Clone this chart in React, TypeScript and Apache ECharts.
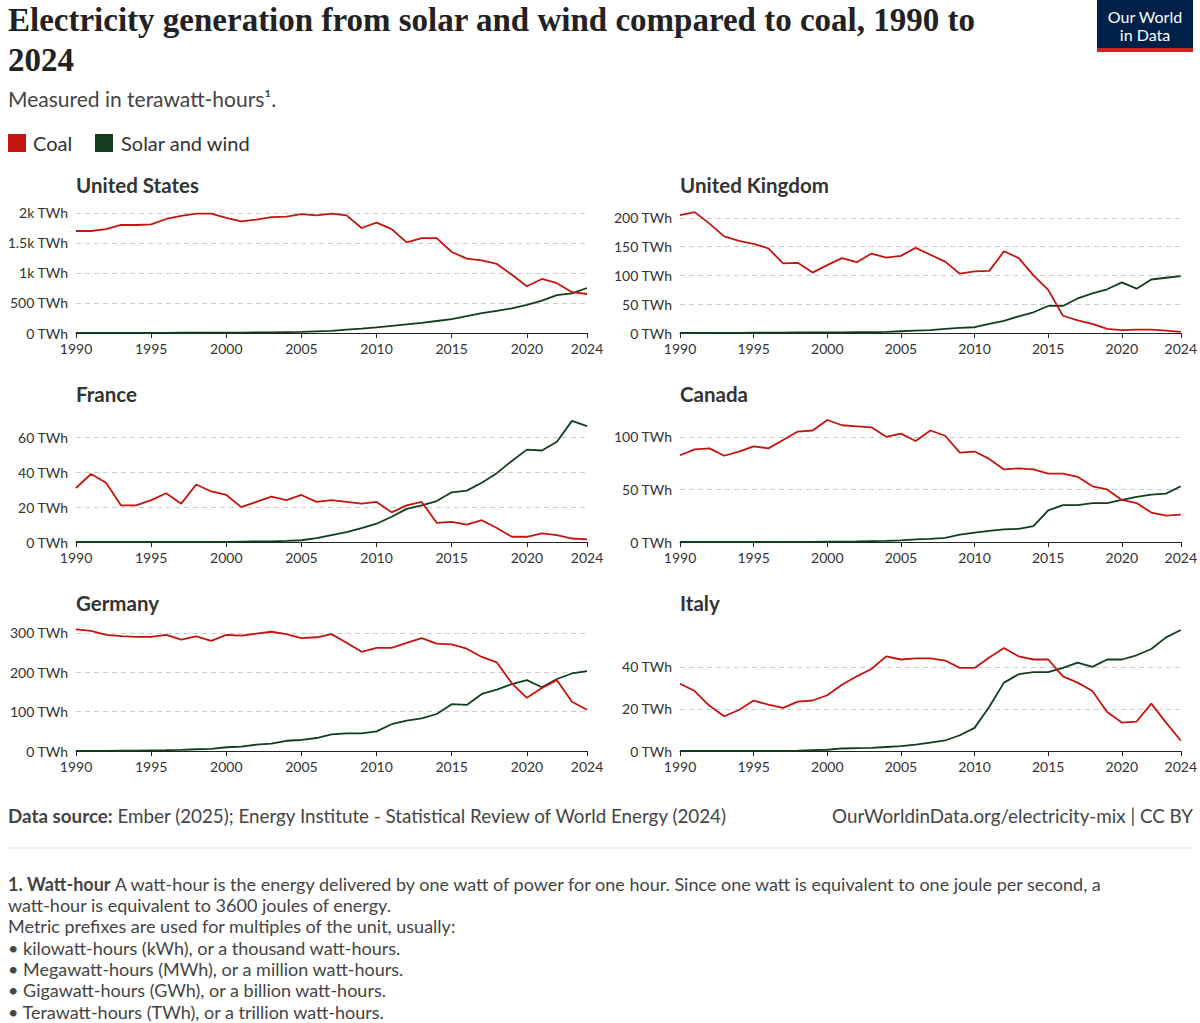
import React, { useEffect, useRef } from "react";
import * as echarts from "echarts";

const years = Array.from({ length: 35 }, (_, i) => 1990 + i);
const yearLabels = [1990, 1995, 2000, 2005, 2010, 2015, 2020, 2024];

const usCoal = [1700, 1700, 1730, 1800, 1800, 1810, 1900, 1950, 1990, 1990, 1920, 1860, 1890, 1930, 1940, 1980, 1960, 1990, 1960, 1750, 1840, 1730, 1510, 1580, 1580, 1350, 1240, 1210, 1150, 970, 780, 900, 830, 680, 650];
const usSolarWind = [3, 3, 3, 3, 3, 3, 3, 4, 4, 5, 6, 7, 11, 12, 15, 18, 27, 35, 56, 74, 95, 120, 145, 170, 200, 230, 280, 330, 370, 410, 470, 540, 630, 660, 750];
const ukCoal = [205, 210, 190, 168, 160, 155, 147, 121, 122, 105, 118, 130, 123, 138, 131, 134, 148, 136, 124, 103, 107, 108, 142, 130, 100, 75, 30, 22, 16, 7, 5, 6, 6, 4, 2];
const ukSolarWind = [0, 0, 0, 0.2, 0.3, 0.4, 0.5, 0.7, 0.9, 0.9, 1, 1, 1.3, 1.3, 2, 3, 4, 5, 7, 9, 10, 16, 21, 29, 36, 47, 47, 60, 69, 76, 88, 77, 93, 96, 99];
const frCoal = [31, 39, 34, 21, 21, 24, 28, 22, 33, 29, 27, 20, 23, 26, 24, 27, 23, 24, 23, 22, 23, 17, 21, 23, 11, 11.5, 10, 12.5, 8, 3, 3, 5, 4, 2, 1.5];
const frSolarWind = [0, 0, 0, 0, 0, 0, 0, 0, 0, 0, 0.1, 0.2, 0.3, 0.4, 0.6, 1, 2.2, 4, 5.7, 8, 10.5, 14.5, 19, 21, 23.5, 28.5, 29.5, 34, 39.5, 46.5, 53, 52.5, 57.5, 69.5, 66.5];
const caCoal = [82.5, 88, 89, 82, 86, 91, 89, 97, 105, 106, 116, 111, 110, 109, 100, 103, 96, 106, 101, 85, 86, 79, 69, 70, 69, 65, 65, 62, 53, 50, 40, 37, 28, 25, 26];
const caSolarWind = [0, 0, 0, 0, 0, 0, 0, 0, 0.1, 0.2, 0.3, 0.4, 0.5, 0.8, 1, 1.5, 2.5, 3, 4, 7, 9, 10.5, 12, 12.5, 15, 30, 35, 35, 37, 37, 40, 43, 45, 46, 53];
const deCoal = [309, 305, 295, 292, 290, 290, 295, 283, 291, 280, 295, 293, 298, 303, 297, 287, 289, 297, 275, 252, 262, 262, 275, 287, 273, 271, 260, 239, 225, 172, 135, 160, 180, 125, 105];
const deSolarWind = [0.1, 0.2, 0.3, 0.6, 1, 1.5, 2, 3, 4.5, 5.5, 9.5, 11, 16, 19, 26, 28, 33, 42, 45, 45, 50, 68, 77, 83, 94, 119, 117, 145, 156, 170, 180, 162, 183, 197, 203];
const itCoal = [32, 28.5, 21.5, 16.5, 19.5, 24, 22, 20.5, 23.5, 24, 26.5, 31.5, 35.5, 39, 45, 43.5, 44, 44, 43, 39.5, 39.5, 44.5, 49, 45, 43.5, 43.5, 35.5, 32.5, 28.5, 18.5, 13.5, 14, 22.5, 13.5, 5];
const itSolarWind = [0, 0, 0, 0, 0, 0, 0.1, 0.1, 0.2, 0.4, 0.6, 1.2, 1.4, 1.5, 1.9, 2.3, 3, 4, 5, 7.5, 11, 21, 32.5, 36.5, 37.5, 37.5, 39.5, 42, 40, 43.5, 43.5, 45.5, 48.5, 54, 57.5];

const COAL = "#c4140f";
const SW = "#123d1f";
const FONT = "Lato, 'Noto Sans', sans-serif";
const SERIF = "'Liberation Serif', 'DejaVu Serif', serif";

const panels = [
  { name: "United States", coal: usCoal, sw: usSolarWind, max: 2033, interval: 500, col: 0, row: 0, fmt: (v: number) => (v >= 1000 ? `${v / 1000}k TWh` : `${v} TWh`) },
  { name: "United Kingdom", coal: ukCoal, sw: ukSolarWind, max: 212, interval: 50, col: 1, row: 0 },
  { name: "France", coal: frCoal, sw: frSolarWind, max: 70, interval: 20, col: 0, row: 1 },
  { name: "Canada", coal: caCoal, sw: caSolarWind, max: 116, interval: 50, col: 1, row: 1 },
  { name: "Germany", coal: deCoal, sw: deSolarWind, max: 310, interval: 100, col: 0, row: 2 },
  { name: "Italy", coal: itCoal, sw: itSolarWind, max: 58, interval: 20, col: 1, row: 2 },
];

const rowTop = [211, 420, 629];
const rowBottom = [333, 542, 751];
const colLeft = [76, 680];
const colRight = [587, 1190];

const footnote = [
  "A watt-hour is the energy delivered by one watt of power for one hour. Since one watt is equivalent to one joule per second, a",
  "watt-hour is equivalent to 3600 joules of energy.",
  "Metric prefixes are used for multiples of the unit, usually:",
  "• kilowatt-hours (kWh), or a thousand watt-hours.",
  "• Megawatt-hours (MWh), or a million watt-hours.",
  "• Gigawatt-hours (GWh), or a billion watt-hours.",
  "• Terawatt-hours (TWh), or a trillion watt-hours.",
];

const App: React.FC = () => {
  const ref = useRef<HTMLDivElement>(null);

  useEffect(() => {
    if (!ref.current) return;
    const chart = echarts.init(ref.current, null, { renderer: "svg" });

    const grid = panels.map((p) => ({
      left: colLeft[p.col],
      width: colRight[p.col] - colLeft[p.col],
      top: rowTop[p.row],
      height: rowBottom[p.row] - rowTop[p.row],
    }));

    const xAxis = panels.map((_, i) => ({
      type: "value" as const,
      gridIndex: i,
      min: 1990,
      max: 2024,
      interval: 5,
      splitLine: { show: false },
      axisLine: { show: true, lineStyle: { color: "#222", width: 1 } },
      axisTick: { show: true, length: 5, customValues: yearLabels, lineStyle: { color: "#222" } },
      axisLabel: { customValues: yearLabels, color: "#333", fontSize: 14, fontFamily: FONT, margin: 8, formatter: (v: number) => String(v) },
    }));

    const yAxis = panels.map((p, i) => ({
      type: "value" as const,
      gridIndex: i,
      min: 0,
      max: p.max,
      interval: p.interval,
      axisLine: { show: false },
      axisTick: { show: false },
      splitLine: { show: true, showMaxLine: false, lineStyle: { color: "#cccccc", type: [5, 4] } },
      axisLabel: {
        showMaxLabel: false,
        color: "#333",
        fontSize: 14,
        fontFamily: FONT,
        margin: 8,
        formatter: p.fmt || ((v: number) => `${v} TWh`),
      },
    }));

    const series: any[] = [];
    panels.forEach((p, i) => {
      series.push({
        type: "line", name: "Solar and wind", xAxisIndex: i, yAxisIndex: i, showSymbol: false,
        lineStyle: { color: SW, width: 1.8 }, itemStyle: { color: SW },
        data: years.map((y, k) => [y, p.sw[k]]),
      });
      series.push({
        type: "line", name: "Coal", xAxisIndex: i, yAxisIndex: i, showSymbol: false,
        lineStyle: { color: COAL, width: 1.8 }, itemStyle: { color: COAL },
        data: years.map((y, k) => [y, p.coal[k]]),
      });
    });

    const t = (x: number, y: number, text: string, style: any = {}) => ({
      type: "text", x, y,
      style: { text, fontFamily: FONT, fontSize: 20, fill: "#333", textVerticalAlign: "middle", ...style },
    });

    const titleStyle = { fontFamily: SERIF, fontSize: 33, fontWeight: "bold", fill: "#222" };
    const graphic: any[] = [
      t(8, 20, "Electricity generation from solar and wind compared to coal, 1990 to", titleStyle),
      t(8, 60, "2024", titleStyle),
      t(8, 98, "Measured in terawatt-hours¹.", { fill: "#444", fontSize: 21 }),
      { type: "rect", shape: { x: 8, y: 134, width: 18, height: 18 }, style: { fill: COAL } },
      t(33, 143, "Coal"),
      { type: "rect", shape: { x: 95, y: 134, width: 18, height: 18 }, style: { fill: SW } },
      t(121, 143, "Solar and wind"),
      { type: "rect", shape: { x: 1097, y: 0, width: 96, height: 50 }, style: { fill: "#002147" } },
      { type: "rect", shape: { x: 1097, y: 48, width: 96, height: 4 }, style: { fill: "#ce261e" } },
      t(1145, 16, "Our World", { fill: "#fff", fontSize: 16, textAlign: "center" }),
      t(1145, 34, "in Data", { fill: "#fff", fontSize: 16, textAlign: "center" }),
      {
        type: "text", x: 8, y: 815,
        style: {
          text: "{b|Data source:} Ember (2025); Energy Institute - Statistical Review of World Energy (2024)",
          fontFamily: FONT, fontSize: 18.8, fill: "#444", textVerticalAlign: "middle",
          rich: { b: { fontFamily: FONT, fontSize: 18.8, fontWeight: "bold", fill: "#444" } },
        },
      },
      t(1193, 815, "OurWorldinData.org/electricity-mix | CC BY", { fontSize: 18.8, fill: "#444", textAlign: "right" }),
      { type: "line", shape: { x1: 8, y1: 848, x2: 1193, y2: 848 }, style: { stroke: "#ddd", lineWidth: 1 } },
      {
        type: "text", x: 8, y: 884,
        style: {
          text: "{b|1. Watt-hour} " + footnote[0],
          fontFamily: FONT, fontSize: 18, fill: "#444", textVerticalAlign: "middle",
          rich: { b: { fontFamily: FONT, fontSize: 18, fontWeight: "bold", fill: "#444" } },
        },
      },
    ];
    footnote.slice(1).forEach((line, k) => {
      graphic.push(t(8, 905 + k * 21.3, line, { fontSize: 18, fill: "#444" }));
    });
    panels.forEach((p) => {
      graphic.push(t(colLeft[p.col], rowTop[p.row] - 26, p.name, { fontWeight: "bold", fontSize: 20.5, fill: "#333" }));
    });

    chart.setOption({
      animation: false,
      backgroundColor: "#fff",
      grid,
      xAxis,
      yAxis,
      series,
      graphic,
    });

    return () => chart.dispose();
  }, []);

  return <div ref={ref} style={{ position: "absolute", left: 0, top: 0, width: 1200, height: 1023 }} />;
};

export default App;
